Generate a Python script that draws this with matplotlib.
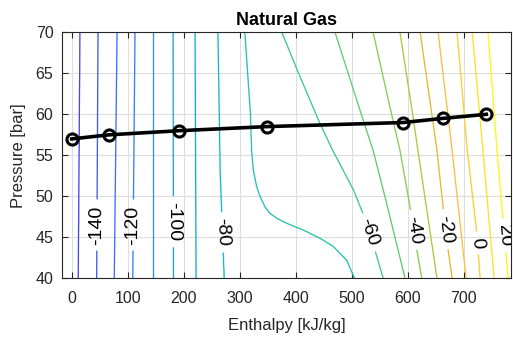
import numpy as np
import matplotlib
matplotlib.use("Agg")
from matplotlib import pyplot as plt
from matplotlib.colors import LinearSegmentedColormap

plt.rcParams["font.family"] = ["Liberation Sans", "DejaVu Sans"]

# isotherm levels [degC]
iso_levels = [-150, -140, -130, -120, -110, -100, -90, -80,
              -70, -60, -50, -40, -30, -20, -10, 0, 10, 20]

# pressure [bar] / enthalpy [kJ/kg] samples along each isotherm
iso_p = [
    [40, 70],
    [40, 70],
    [40, 70],
    [40, 70],
    [40, 70],
    [40, 70],
    [40, 70],
    [40, 53, 70],
    [40, 42.2, 43.9, 44.9, 45.9, 46.7, 47.2, 47.9, 48.7, 50, 51.2,
     53.2, 55.6, 60, 70],
    [40, 43.5, 47.9, 50.8, 55.6, 58.9, 65, 70],
    [40, 45, 50, 55.6, 60, 70],
    [40, 43.2, 48.7, 55.6, 60, 70],
    [40, 55.6, 60, 70],
    [40, 43.4, 48.6, 55.6, 70],
    [40, 55.6, 70],
    [40, 45.6, 55.6, 70],
    [40, 55.6, 70],
    [40, 47.1, 55.6, 70],
]
iso_h = [
    [11.8, 14.8],
    [44.6, 47],
    [76, 81],
    [109, 113],
    [145, 145],
    [181.6, 181],
    [222, 220.2],
    [272, 265, 261],
    [505, 491, 467, 443, 413, 384, 369, 354, 345, 336, 330,
     324, 321, 319, 309],
    [556, 541, 520, 503, 466, 443, 405, 375],
    [595, 577, 559, 538, 517, 470],
    [625, 616.6, 604, 586, 571, 538],
    [652, 618, 608.6, 586],
    [679, 672, 663, 652, 622],
    [704, 679, 654],
    [729, 723, 706, 688],
    [754, 734, 715],
    [779, 770, 759, 743],
]
t_edge = [-155, 25]

# spots for the labelled isotherms -140, -120, ... 20
label_spots = [(45, 46.5), (110, 46.5), (181, 46.9), (268, 45.6),
               (531, 45.6), (610, 45.9), (668, 46.0), (720, 44.3),
               (768, 45.2)]

# operating path through the exchanger
path_h = [0, 67, 192, 348, 592, 662, 740]
path_p = [57, 57.5, 58, 58.5, 59, 59.5, 60]

parula_pts = [
    (0.000, (0.2422, 0.1504, 0.6603)), (0.111, (0.2803, 0.2782, 0.9221)),
    (0.222, (0.2440, 0.4358, 0.9988)), (0.333, (0.1540, 0.5902, 0.9218)),
    (0.444, (0.0297, 0.7082, 0.8163)), (0.556, (0.1938, 0.7758, 0.6251)),
    (0.667, (0.5044, 0.7993, 0.3480)), (0.778, (0.8634, 0.7406, 0.1596)),
    (0.830, (0.9960, 0.7400, 0.2350)), (0.889, (0.9892, 0.8136, 0.1885)),
    (1.000, (0.9769, 0.9839, 0.0805)),
]
parula = LinearSegmentedColormap.from_list("parula", parula_pts)

# temperature field on an (h, p) grid built from the isotherm crossings
h_grid = np.linspace(-17.8, 784, 900)
p_grid = np.linspace(40, 70, 301)
T = np.empty((p_grid.size, h_grid.size))
for i, p in enumerate(p_grid):
    h_cross = [np.interp(p, ps, hs) for ps, hs in zip(iso_p, iso_h)]
    T[i] = np.interp(h_grid, [h_grid[0]] + h_cross + [h_grid[-1]],
                     [t_edge[0]] + iso_levels + [t_edge[1]])

fig = plt.figure(figsize=(5.13, 3.38), dpi=100)
ax = fig.add_axes([0.1203, 0.1766, 0.8757, 0.7278])

cs = ax.contour(h_grid, p_grid, T, levels=iso_levels, cmap=parula,
                vmin=-172, vmax=22, linewidths=0.95)
ax.clabel(cs, manual=label_spots, inline=True,
          fontsize=14, fmt="%d", colors="k", inline_spacing=6)

ax.plot(path_h, path_p, color="k", lw=2.6, marker="o", ms=8,
        mfc="none", mew=2.2)

ax.set_xlim(-17.8, 784)
ax.set_ylim(40, 70)
ax.set_xticks(np.arange(0, 701, 100))
ax.set_yticks(np.arange(40, 71, 5))
ax.grid(True, color="#dedede", lw=0.8)
ax.set_axisbelow(True)
ax.tick_params(direction="in", top=True, right=True, length=4,
               labelsize=11.5, colors="#262626")
ax.tick_params(axis="x", pad=9)
ax.tick_params(axis="y", pad=6)
for s in ax.spines.values():
    s.set_color("#262626")
    s.set_linewidth(0.8)

ax.set_title("Natural Gas", fontsize=13, fontweight="bold", pad=5)
ax.set_xlabel("Enthalpy [kJ/kg]", fontsize=12, color="#262626", labelpad=9)
ax.set_ylabel("Pressure [bar]", fontsize=12, color="#262626", labelpad=7)

fig.savefig("out.png", dpi=100)
